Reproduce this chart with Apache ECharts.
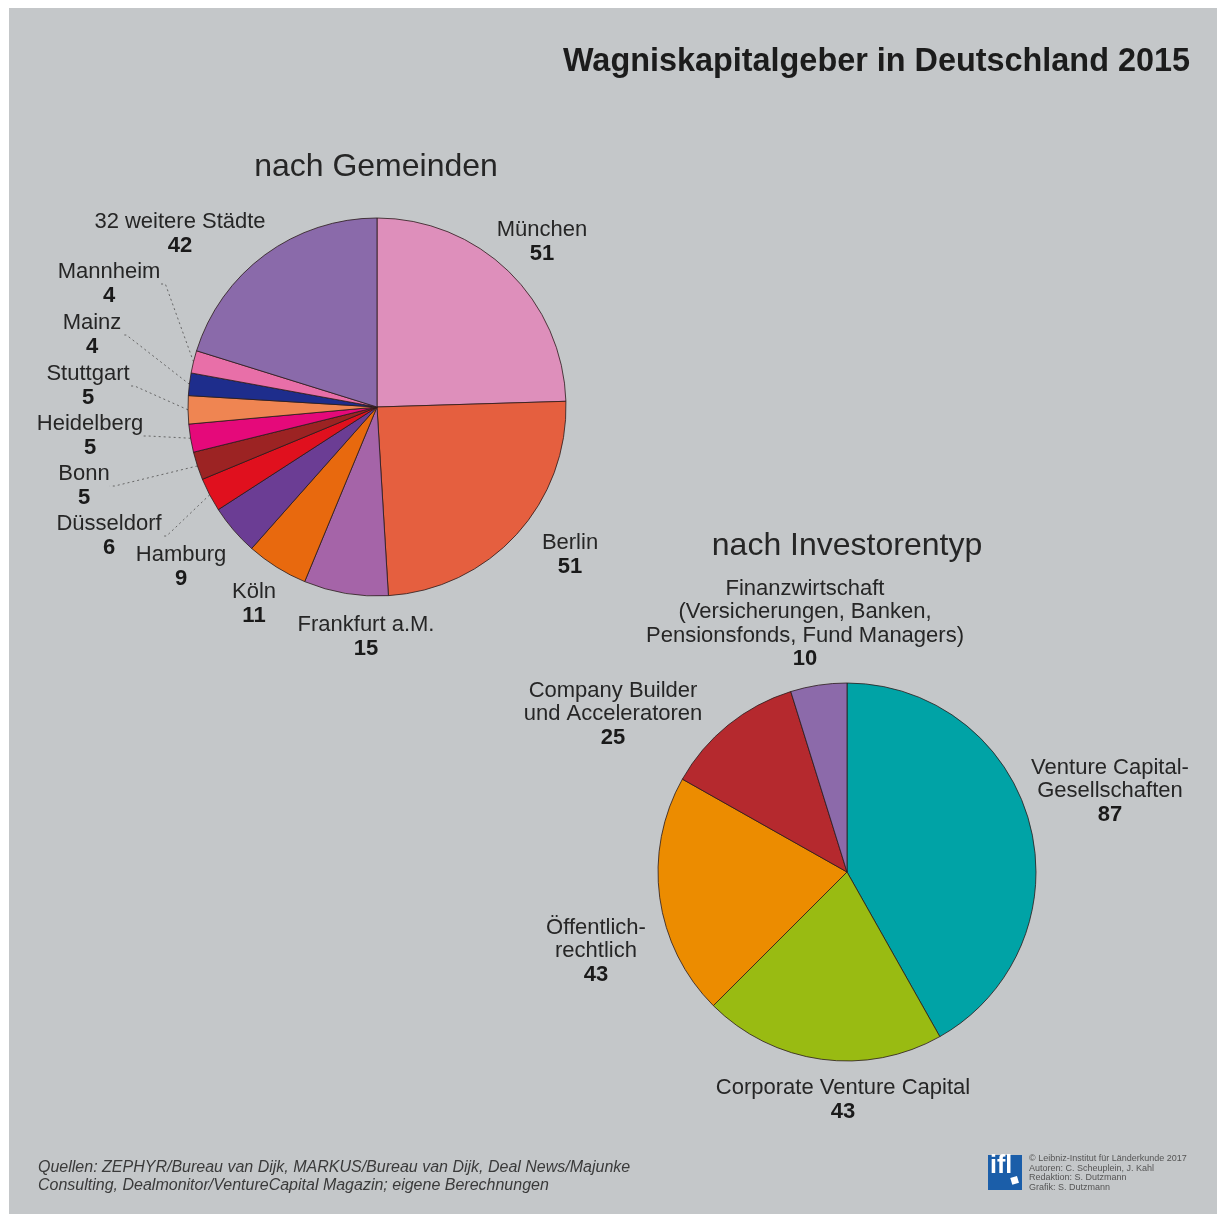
<!DOCTYPE html>
<html>
<head>
<meta charset="utf-8">
<script src="https://cdn.jsdelivr.net/npm/echarts@6/dist/echarts.min.js"></script>
<style>
html,body{margin:0;padding:0;background:#fff;}
#chart{width:1217px;height:1214px;}
</style>
</head>
<body>
<div id="chart"></div>
<script>
// ---- data ----
const cityNames = ['München','Berlin','Frankfurt a.M.','Köln','Hamburg','Düsseldorf','Bonn','Heidelberg','Stuttgart','Mainz','Mannheim','32 weitere Städte'];
const cityValues = [51, 51, 15, 11, 9, 6, 5, 5, 5, 4, 4, 42];
const cityColors = ['#de8fbb','#e55f3f','#a564a8','#e8690e','#6b3d94','#e0101e','#9c2323','#e5097a','#ef8552','#1e2d8c','#e86fa8','#8a6aaa'];
const cityLeader = [false,false,false,false,false,true,true,true,true,true,true,false];

const typeNames = ['Venture Capital-\nGesellschaften','Corporate Venture Capital','Öffentlich-\nrechtlich','Company Builder\nund Acceleratoren','Finanzwirtschaft\n(Versicherungen, Banken,\nPensionsfonds, Fund Managers)'];
const typeValues = [87, 43, 43, 25, 10];
const typeColors = ['#00a3a6','#99bb12','#ec8c00','#b5292e','#8c6aaa'];

// label anchor positions (label layout, not marks)
const cityLabelPos = [[542,242],[570,555],[366,637],[254,604],[181,567],[109,536],[84,486],[90,436],[88,386],[92,335],[109,284],[180,234]];
const typeLabelPos = [[1110,791],[843,1100],[596,951],[613,714],[805,624]];

const FONT = '"Liberation Sans", Arial, Helvetica, sans-serif';

function labelCfg(){
  return {
    show: true,
    position: 'outside',
    formatter: p => {
      const lines = p.name.split('\n').map(l => '{n|' + l + '}');
      return lines.join('\n') + '\n{v|' + p.value + '}';
    },
    rich: {
      n: {fontFamily: FONT, fontSize: 22, color: '#262626', lineHeight: 23.5, align: 'center'},
      v: {fontFamily: FONT, fontSize: 22, fontWeight: 'bold', color: '#1a1a1a', lineHeight: 23.5, align: 'center'}
    }
  };
}

const chart = echarts.init(document.getElementById('chart'), null, {renderer: 'canvas'});
chart.setOption({
  backgroundColor: '#ffffff',
  animation: false,
  graphic: [
    {type: 'rect', z: -10, shape: {x: 9, y: 8, width: 1208, height: 1206}, style: {fill: '#c4c7c9'}},
    {type: 'text', x: 1190, y: 62, style: {text: 'Wagniskapitalgeber in Deutschland 2015', font: 'bold 32.4px ' + FONT, fill: '#1c1c1c', align: 'right', verticalAlign: 'middle'}},
    {type: 'text', x: 376, y: 167, style: {text: 'nach Gemeinden', font: '32px ' + FONT, fill: '#262626', align: 'center', verticalAlign: 'middle'}},
    {type: 'text', x: 847, y: 546, style: {text: 'nach Investorentyp', font: '32px ' + FONT, fill: '#262626', align: 'center', verticalAlign: 'middle'}},
    {type: 'text', x: 38, y: 1177, style: {text: 'Quellen: ZEPHYR/Bureau van Dijk, MARKUS/Bureau van Dijk, Deal News/Majunke\nConsulting, Dealmonitor/VentureCapital Magazin; eigene Berechnungen', font: 'italic 16px ' + FONT, fill: '#3a3a3a', lineHeight: 18, verticalAlign: 'middle'}},
    {type: 'rect', shape: {x: 988, y: 1155, width: 34, height: 35}, style: {fill: '#1b5ea9'}},
    {type: 'text', x: 990, y: 1154, style: {text: 'ifl', font: 'bold 25px ' + FONT, fill: '#ffffff'}},
    {type: 'rect', shape: {x: 1011, y: 1177, width: 7, height: 7}, rotation: 0.3, originX: 1014, originY: 1180, style: {fill: '#ffffff'}},
    {type: 'text', x: 1029, y: 1154, style: {text: '© Leibniz-Institut für Länderkunde 2017\nAutoren: C. Scheuplein, J. Kahl\nRedaktion: S. Dutzmann\nGrafik: S. Dutzmann', font: '9px ' + FONT, fill: '#555555', lineHeight: 9.5}}
  ],
  series: [
    {
      type: 'pie',
      center: [377, 407],
      radius: [0, 189],
      startAngle: 90,
      clockwise: true,
      avoidLabelOverlap: false,
      itemStyle: {borderColor: '#2a1a1a', borderWidth: 0.8},
      label: labelCfg(),
      labelLine: {show: true, length: 5, length2: 5, lineStyle: {color: '#666', width: 1, type: [2, 3]}},
      labelLayout: p => ({x: cityLabelPos[p.dataIndex][0], y: cityLabelPos[p.dataIndex][1], align: 'center', verticalAlign: 'middle'}),
      emphasis: {disabled: true},
      data: cityNames.map((n, i) => ({name: n, value: cityValues[i], itemStyle: {color: cityColors[i]}, labelLine: {show: cityLeader[i]}}))
    },
    {
      type: 'pie',
      center: [847, 872],
      radius: [0, 189],
      startAngle: 90,
      clockwise: true,
      avoidLabelOverlap: false,
      itemStyle: {borderColor: '#2a1a1a', borderWidth: 0.8},
      label: labelCfg(),
      labelLine: {show: false},
      labelLayout: p => ({x: typeLabelPos[p.dataIndex][0], y: typeLabelPos[p.dataIndex][1], align: 'center', verticalAlign: 'middle'}),
      emphasis: {disabled: true},
      data: typeNames.map((n, i) => ({name: n, value: typeValues[i], itemStyle: {color: typeColors[i]}}))
    }
  ]
});
</script>
</body>
</html>
